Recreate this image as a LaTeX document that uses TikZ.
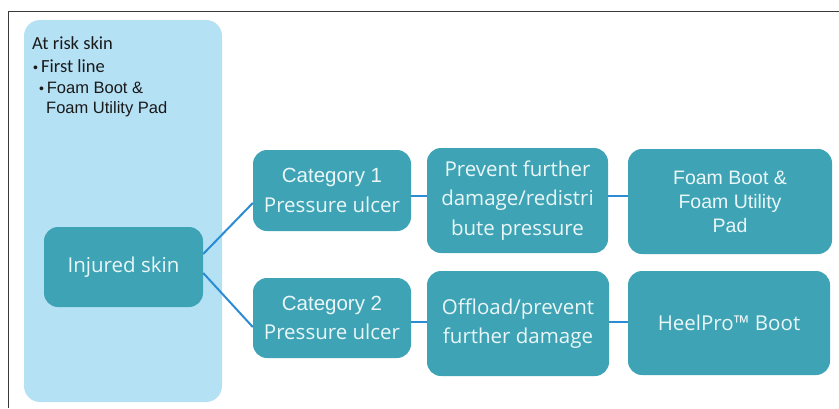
\documentclass[tikz,border=0pt]{standalone}
\usepackage{fontspec}
\setmainfont{Open Sans}
\newfontfamily\arialfont{Liberation Sans}
\newfontfamily\calfont{Carlito}
\definecolor{tealfill}{HTML}{3EA4B5}
\definecolor{boxtext}{HTML}{EAF6F7}
\definecolor{riskfill}{HTML}{B5E1F5}
\definecolor{linkblue}{HTML}{2B8BD3}
\definecolor{risktext}{HTML}{1A1A1A}
\definecolor{framecol}{HTML}{3A3A3A}
\newcommand{\smallbullet}{{\arialfont\fontsize{14}{14}\selectfont•}}
\begin{document}
\begin{tikzpicture}[x=1pt,y=-1pt,
  box/.style={rectangle,rounded corners=14pt,fill=tealfill,text=boxtext,align=center,inner sep=0pt,
    font=\fontsize{20.5}{29.5}\selectfont},
  riskbox/.style={rectangle,rounded corners=16pt,fill=riskfill,inner sep=0pt},
  risklabel/.style={anchor=base west,inner sep=0pt,text=risktext},
  link/.style={draw=linkblue,line width=2pt},
  ]
\useasboundingbox (0,0) rectangle (839,408);
\draw[framecol,line width=1pt] (839,11) -- (8,11) -- (8,408);

% at risk column
\node[riskbox,minimum width=198pt,minimum height=382pt] (risk) at (123,211) {};
\node[risklabel,font=\calfont\fontsize{18.5}{20}\selectfont] (atrisk) at (32,49) {At risk skin};
\node[risklabel,font=\calfont\fontsize{18.5}{20}\selectfont] (firstline) at (33,72) {\smallbullet\,First line};
\node[risklabel,font=\arialfont\fontsize{16.5}{20}\selectfont] (foamline) at (39,93) {\smallbullet\,Foam Boot \&};
\node[risklabel,font=\arialfont\fontsize{16.5}{20}\selectfont] (utilline) at (46,113) {Foam Utility Pad};

% boxes
\node[box,minimum width=159pt,minimum height=80pt] (inj) at (123.5,267) {Injured skin};
\node[box,minimum width=158pt,minimum height=81pt] (cat1) at (332,190.5) {{\arialfont Category 1}\\Pressure ulcer};
\node[box,minimum width=158pt,minimum height=80pt] (cat2) at (332,318) {{\arialfont Category 2}\\Pressure ulcer};
\node[box,minimum width=181pt,minimum height=105pt] (prev) at (517.5,200.5) {Prevent further\\damage/redistri\\bute pressure};
\node[box,minimum width=182pt,minimum height=105pt] (off) at (518,323.5) {Offload/prevent\\further damage};
\node[box,minimum width=204pt,minimum height=105pt,font=\arialfont\fontsize{19.5}{24}\selectfont] (foam) at (730,201.5) {Foam Boot \&\\Foam Utility\\Pad};
\node[box,minimum width=202pt,minimum height=104pt] (heel) at (729,323) {HeelPro™ Boot};

% links
\draw[link] ([yshift=13pt]inj.east) -- ([yshift=-12.5pt]cat1.west);
\draw[link] ([yshift=-6pt]inj.east) -- ([yshift=-9pt]cat2.west);
\draw[link] ([yshift=-5.5pt]cat1.east) -- ([yshift=4.5pt]prev.west);
\draw[link] ([yshift=4.5pt]prev.east) -- ([yshift=5.5pt]foam.west);
\draw[link] ([yshift=-4pt]cat2.east) -- ([yshift=1.5pt]off.west);
\draw[link] ([yshift=1.5pt]off.east) -- ([yshift=1pt]heel.west);
\end{tikzpicture}
\end{document}
